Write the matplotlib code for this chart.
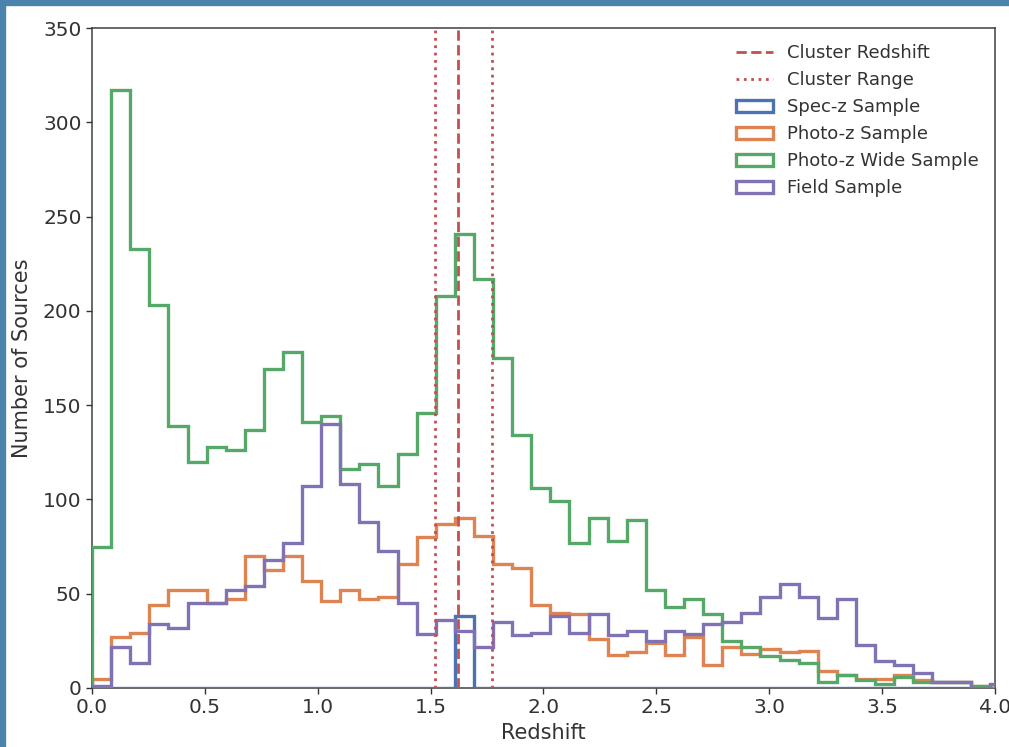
import numpy as np
import matplotlib
matplotlib.use("Agg")
import matplotlib.pyplot as plt
from matplotlib.patches import Rectangle

# redshift binning: equal-width bins starting at z=0
bin_width = 0.0846
n_bins = 48
edges = np.arange(n_bins + 1) * bin_width
centers = 0.5 * (edges[:-1] + edges[1:])

z_cluster = 1.622
z_range = [1.519, 1.772]

spec_z = [0] * 19 + [38] + [0] * 28

photo_z = [5, 27, 29, 44, 52, 52, 45, 47, 70, 62.5,
           70, 57, 46, 52, 47, 48, 66, 80, 87, 90,
           80.5, 66, 63.5, 44, 40, 39, 26, 17.5, 19, 24,
           17.5, 27, 12, 22, 18, 20.5, 19, 19.5, 9, 7,
           5, 5, 7, 4, 3, 3, 1, 0]

photo_z_wide = [75, 317, 233, 203, 139, 120, 128, 126, 137, 169,
                178, 141, 144, 116, 119, 107, 124, 146, 208, 241,
                217, 175, 134, 106, 99, 77, 90, 78, 89, 52,
                43, 47, 39, 25, 22, 17, 15, 13, 3, 7,
                4, 2, 6, 3, 3, 3, 1, 0]

field = [1, 22, 13, 34, 32, 45, 45, 52, 54, 68,
         77, 107, 140, 108, 88, 72.5, 45, 28.5, 36, 30,
         22, 35, 28, 29, 38, 29, 39, 28, 30, 25,
         30, 28.5, 34, 35, 40, 48, 55, 48, 37, 47,
         23, 14.5, 12, 8, 3, 3, 0, 2]

blue, orange, green, red, purple = "#4c72b0", "#dd8452", "#55a868", "#c44e52", "#8172b3"
ink = "#333333"

fig = plt.figure(figsize=(10.09, 7.47), dpi=100)
ax = fig.add_axes([0.0912, 0.079, 0.8949, 0.8835])

ax.axvline(z_cluster, color=red, ls="--", lw=2, zorder=5, label="Cluster Redshift")
ax.axvline(z_range[0], color=red, ls=":", lw=2, zorder=5, label="Cluster Range")
ax.axvline(z_range[1], color=red, ls=":", lw=2, zorder=5)

# step outlines sit above the spines so the zero-count runs show along the x axis
ax.hist(centers, bins=edges, weights=spec_z, histtype="step", lw=2.4, color=blue, zorder=3, label="Spec-z Sample")
ax.hist(centers, bins=edges, weights=photo_z, histtype="step", lw=2.4, color=orange, zorder=3, label="Photo-z Sample")
ax.hist(centers, bins=edges, weights=photo_z_wide, histtype="step", lw=2.4, color=green, zorder=3, label="Photo-z Wide Sample")
ax.hist(centers, bins=edges, weights=field, histtype="step", lw=2.4, color=purple, zorder=3, label="Field Sample")

ax.set_xlim(0, 4)
ax.set_ylim(0, 350)
ax.set_xlabel("Redshift", fontsize=15, color=ink, labelpad=4)
ax.set_ylabel("Number of Sources", fontsize=15, color=ink, labelpad=8)
ax.tick_params(labelsize=14.5, colors=ink, length=4, width=1)
for s in ax.spines.values():
    s.set_color("#404040")
    s.set_linewidth(1.1)

ax.legend(loc="upper right", frameon=False, fontsize=13, labelcolor=ink)

# screenshot frame along the left and top edges
frame = "#4a84aa"
fig.patches.append(Rectangle((0, 0), 5 / 1009, 1, transform=fig.transFigure, color=frame, zorder=10))
fig.patches.append(Rectangle((0, 1 - 5 / 747), 1, 5 / 747, transform=fig.transFigure, color=frame, zorder=10))

fig.savefig("out.png", dpi=100)
